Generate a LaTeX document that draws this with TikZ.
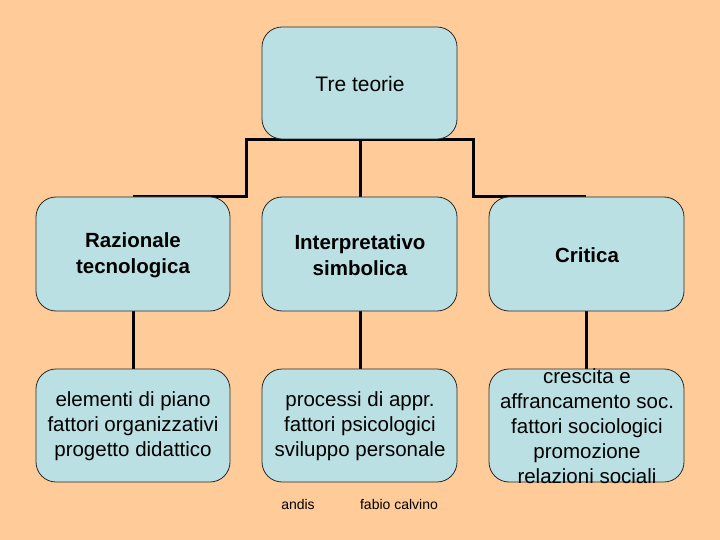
\documentclass[tikz,border=0pt]{standalone}
\usepackage{fontspec}
\setmainfont{Liberation Sans}
\definecolor{bg}{RGB}{255,204,153}
\definecolor{boxfill}{RGB}{187,224,227}
\definecolor{boxline}{RGB}{40,40,40}
\begin{document}
\begin{tikzpicture}[x=1bp,y=-1bp,
  box/.style={draw=boxline, line width=0.8bp, fill=boxfill, rounded corners=20bp},
  conn/.style={draw=black, line width=3bp},
  lbl/.style={align=center, font=\fontsize{20.5bp}{25bp}\selectfont, inner sep=0pt},
  blbl/.style={lbl, font=\fontsize{20.5bp}{26bp}\selectfont\bfseries}]
\fill[bg] (0,0) rectangle (720,540);
\useasboundingbox (0,0) rectangle (720,540);
% connectors
\coordinate (tl) at (246,140);
\coordinate (tr) at (473,140);
\coordinate (tm) at (360,140);
\draw[conn] (133,197) -- (246,197) -- (tl) -- (tr) -- (473,197) -- (586,197);
\draw[conn] (tm) -- (360,197);
\draw[conn] (133,311) -- (133,369);
\draw[conn] (360,311) -- (360,369);
\draw[conn] (586,311) -- (586,369);
% boxes
\draw[box] (262,27) rectangle (457,139);
\draw[box] (36,197) rectangle (230,311);
\draw[box] (262,197) rectangle (457,311);
\draw[box] (489,197) rectangle (684,311);
\draw[box] (36,369) rectangle (230,482);
\draw[box] (262,369) rectangle (457,482);
\draw[box] (489,369) rectangle (684,482);
% texts
\node[lbl, font=\fontsize{21bp}{24bp}\selectfont] (top) at (360,84) {Tre teorie};
\node[blbl] (m1) at (133,255) {Razionale\\tecnologica};
\node[blbl] (m2) at (360,255) {Interpretativo\\simbolica};
\node[blbl] (m3) at (587,255) {Critica};
\node[lbl] (b1) at (133,426) {elementi di piano\\fattori organizzativi\\progetto didattico};
\node[lbl] (b2) at (360,426) {processi di appr.\\fattori psicologici\\sviluppo personale};
\node[lbl] (b3) at (587,426) {crescita e\\affrancamento soc.\\fattori sociologici\\promozione\\relazioni sociali};
\node[font=\fontsize{14bp}{15bp}\selectfont, inner sep=0pt] (f1) at (298,504) {andis};
\node[font=\fontsize{14bp}{15bp}\selectfont, inner sep=0pt] (f2) at (399,504) {fabio calvino};
\end{tikzpicture}
\end{document}
